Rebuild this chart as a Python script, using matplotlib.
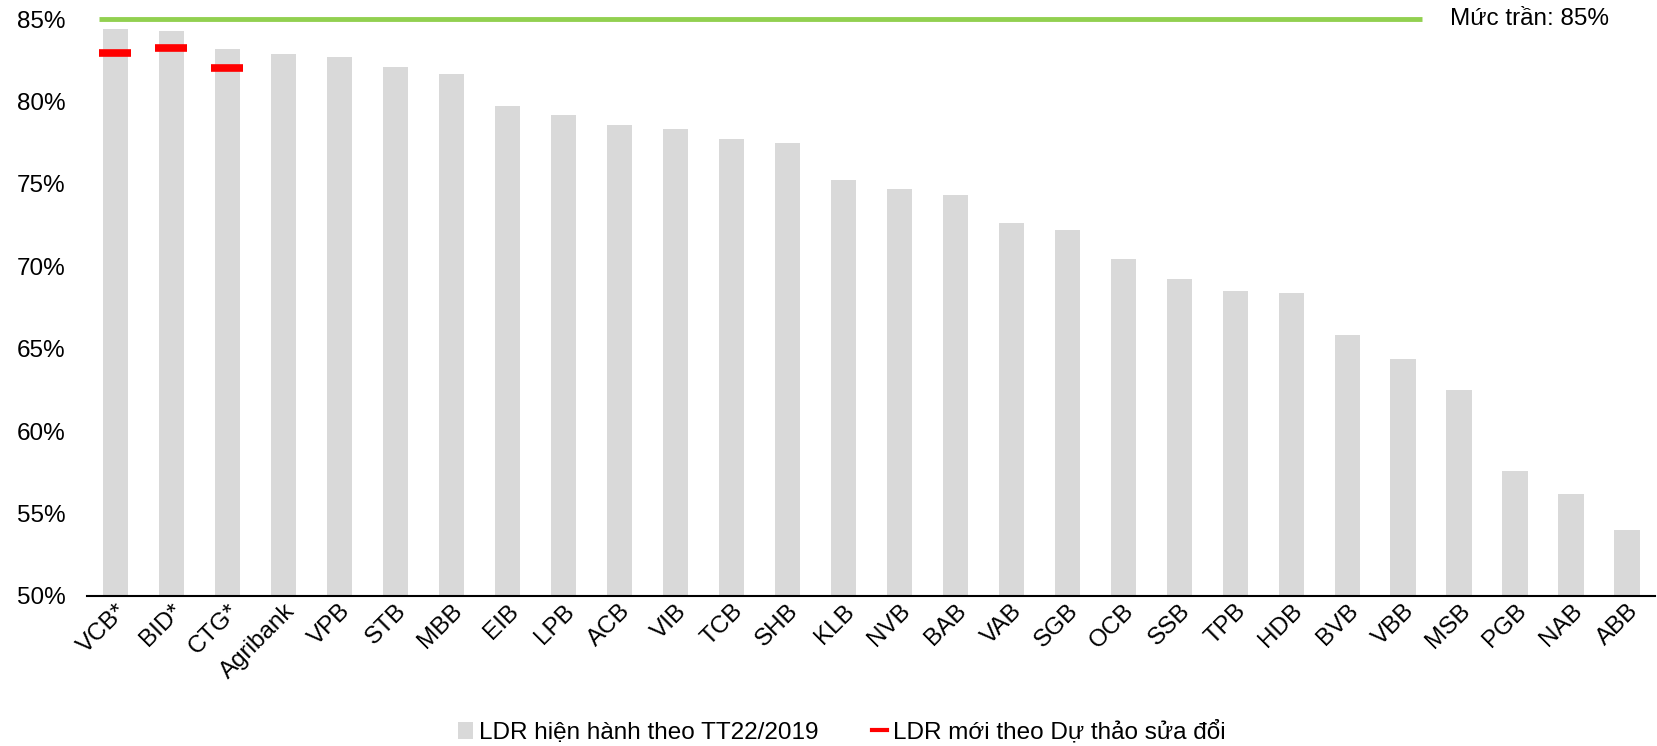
import matplotlib

matplotlib.use("Agg")
import matplotlib.pyplot as plt
import numpy as np
from matplotlib.lines import Line2D
from matplotlib.patches import Patch

plt.rcParams["font.family"] = ["Liberation Sans", "DejaVu Sans"]

# LDR by bank, current rule (TT22/2019)
banks = ["VCB*", "BID*", "CTG*", "Agribank", "VPB", "STB", "MBB", "EIB", "LPB",
         "ACB", "VIB", "TCB", "SHB", "KLB", "NVB", "BAB", "VAB", "SGB", "OCB",
         "SSB", "TPB", "HDB", "BVB", "VBB", "MSB", "PGB", "NAB", "ABB"]
ldr_current = [84.4, 84.3, 83.2, 82.9, 82.7, 82.1, 81.65, 79.7, 79.15, 78.6,
               78.35, 77.7, 77.45, 75.25, 74.7, 74.35, 72.6, 72.2, 70.45, 69.2,
               68.5, 68.4, 65.85, 64.35, 62.5, 57.6, 56.2, 54.0]
# LDR under the draft amendment (only the three state banks)
draft_banks = ["VCB*", "BID*", "CTG*"]
ldr_draft = [82.95, 83.25, 82.0]
cap = 85.0
cap_label = "Mức trần: 85%"

fig = plt.figure(figsize=(16.57, 7.46), dpi=100)
ax = fig.add_axes([0.0528, 0.2011, 0.946, 0.7734])

x = np.arange(len(banks))
ax.bar(x, ldr_current, width=0.45, color="#d9d9d9", zorder=1)

xd = [banks.index(b) for b in draft_banks]
ax.plot(xd, ldr_draft, linestyle="none", marker="_", markersize=23,
        markeredgewidth=5.5, color="#ff0000", zorder=3)

ax.hlines(cap, -0.29, 23.33, color="#92d050", linewidth=3.5, zorder=2,
          clip_on=False)
ax.text(23.83, cap, cap_label, fontsize=17.5, va="center", ha="left")

ax.set_xlim(-0.5, len(banks) - 0.5)
ax.set_ylim(50, 85)
ax.set_yticks(np.arange(50, 86, 5))
ax.set_yticklabels([f"{v}%" for v in range(50, 86, 5)], fontsize=17.5)
ax.set_xticks(x)
ax.set_xticklabels(banks, rotation=45, ha="right", rotation_mode="anchor",
                   fontsize=17.5)
ax.tick_params(axis="x", length=0, pad=3)
ax.tick_params(axis="y", length=0, pad=16)

for side in ["top", "right", "left"]:
    ax.spines[side].set_visible(False)
ax.spines["bottom"].set_linewidth(1.5)
ax.spines["bottom"].set_color("#000000")

handles = [
    Patch(facecolor="#d9d9d9", edgecolor="none"),
    Line2D([], [], color="#ff0000", linewidth=3),
]
fig.legend(handles, ["LDR hiện hành theo TT22/2019", "LDR mới theo Dự thảo sửa đổi"],
           loc="center", bbox_to_anchor=(0.508, 0.019), ncol=2, frameon=False,
           fontsize=17.5, handlelength=0.6, handletextpad=0.25, columnspacing=2.2)

fig.savefig("out.png", dpi=100)
